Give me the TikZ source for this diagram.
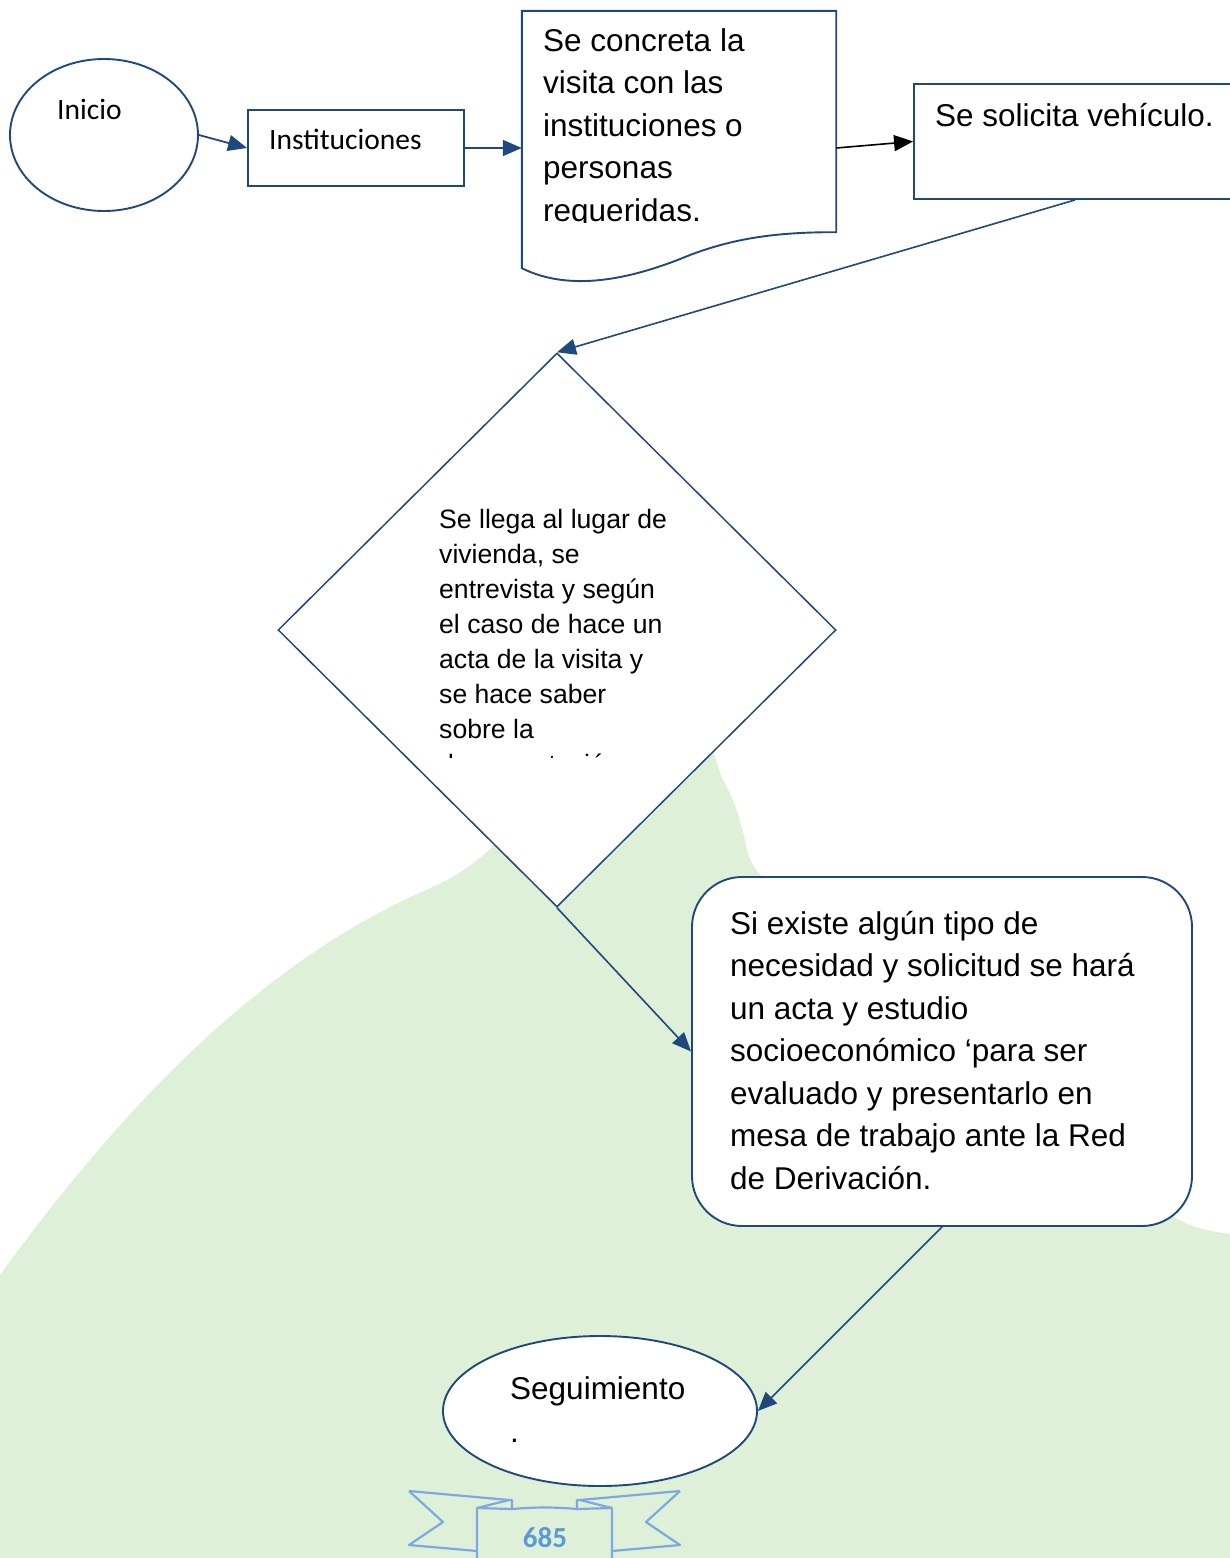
\documentclass[tikz,border=0pt]{standalone}
\usepackage{fontspec}
\setmainfont{Liberation Sans}
\newfontfamily\calibrifont{Carlito}
\usetikzlibrary{positioning,arrows.meta,shapes.geometric}
\definecolor{flowblue}{RGB}{31,73,125}
\definecolor{bggreen}{RGB}{223,240,216}
\definecolor{ribbonblue}{RGB}{125,168,226}
\definecolor{pagenum}{RGB}{91,155,213}
\tikzset{
  shapestyle/.style={draw=flowblue, line width=1.9pt, fill=white, inner sep=0pt},
  arrowstyle/.style={-{Triangle[length=19pt,width=16pt]}, flowblue, line width=1.8pt},
  bigtext/.style={anchor=base west, align=left, inner sep=0pt, font=\fontsize{31.5}{42.5}\selectfont},
  smalltext/.style={anchor=base west, align=left, inner sep=0pt, font=\fontsize{26.6}{35.1}\selectfont},
  calibritext/.style={anchor=base west, inner sep=0pt, font=\calibrifont\fontsize{29.5}{33}\selectfont}
}

\begin{document}
\begin{tikzpicture}[x=1pt,y=-1pt]
  \useasboundingbox (0,0) rectangle (1230,1558);
  \fill[bggreen] (0,1558) -- (0,1275) .. controls (120,1110) and (260,960) .. (435,886)
    .. controls (470,870) and (490,850) .. (520,820) -- (700,720)
    .. controls (712,740) and (715,760) .. (722,778) .. controls (735,800) and (740,820) .. (745,840)
    .. controls (750,870) and (760,880) .. (800,900) -- (1150,1200)
    .. controls (1180,1225) and (1200,1230) .. (1230,1234) -- (1230,1558) -- cycle;
  \node[shapestyle, ellipse, minimum width=188pt, minimum height=152pt] (inicio) at (104,135) {};
  \node[shapestyle, rectangle, minimum width=216pt, minimum height=76pt] (inst) at (356,148) {};
  \node[rectangle, inner sep=0pt, minimum width=314pt, minimum height=257pt] (doc) at (679,139.5) {};
  \draw[shapestyle] (doc.south west) -- (doc.north west) -- (doc.north east) -- ([yshift=36pt]doc.south east)
    .. controls (770,232) and (730,240) .. (690,255) .. controls (630,280) and (570,292) .. (doc.south west) -- cycle;
  \node[shapestyle, rectangle, minimum width=322pt, minimum height=115pt] (veh) at (1075,141.5) {};
  \node[shapestyle, diamond, line width=1.5pt, minimum width=558pt, minimum height=554pt] (dec) at (557,630) {};
  \node[shapestyle, rectangle, rounded corners=50pt, minimum width=500pt, minimum height=349pt] (eval) at (942,1051.5) {};
  \node[shapestyle, ellipse, minimum width=314pt, minimum height=150pt] (seg) at (600,1411) {};

  \node[calibritext] (inicio-txt) at (57,119) {Inicio};
  \node[calibritext] (inst-txt) at (269,149) {Instituciones};
  \begin{scope}
    \clip (522,11) rectangle (836,222);
    \node[bigtext] (doc-txt) at (543,221) {Se concreta la\\visita con las\\instituciones o\\personas\\requeridas.};
  \end{scope}
  \node[bigtext] (veh-txt) at (935,126) {Se solicita vehículo.};
  \begin{scope}
    \clip (278,353) rectangle (836,757);
    \node[smalltext] (dec-txt) at (439,773.7) {Se llega al lugar de\\vivienda, se\\entrevista y según\\el caso de hace un\\acta de la visita y\\se hace saber\\sobre la\\documentación};
  \end{scope}
  \node[bigtext] (eval-txt) at (730,1189) {Si existe algún tipo de\\necesidad y solicitud se hará\\un acta y estudio\\socioeconómico ‘para ser\\evaluado y presentarlo en\\mesa de trabajo ante la Red\\de Derivación.};
  \node[bigtext] (seg-txt) at (510,1442) {Seguimiento\\.};

  \draw[arrowstyle] (inicio.east) -- (inst.west);
  \draw[arrowstyle] (inst.east) -- (inst.east -| doc.west);
  \draw[arrowstyle, black, line width=1.6pt] (doc.east |- inst.east) -- (veh.west);
  \draw[arrowstyle, line width=1.6pt] (veh.south) -- (dec.north);
  \draw[arrowstyle, line width=1.6pt] (dec.south) -- (eval.west);
  \draw[arrowstyle, line width=1.6pt] (eval.south) -- (seg.east);

  \begin{scope}[ribbonblue, line width=2.2pt, line join=round]
    \draw (477,1565) -- (477,1508) -- (509,1500) -- (512,1500) -- (512,1509);
    \draw (409,1491) -- (509,1500);
    \draw (409,1491) -- (443,1522) -- (409,1545) -- (477,1551);
    \draw (612,1565) -- (612,1508) -- (580,1500) -- (577,1500) -- (577,1509);
    \draw (680,1491) -- (580,1500);
    \draw (680,1491) -- (646,1522) -- (680,1545) -- (612,1551);
    \draw (477,1508) -- (512,1509) .. controls (535,1507) and (555,1507) .. (577,1509) -- (612,1508);
  \end{scope}
  \node[font=\calibrifont\bfseries\fontsize{29}{30}\selectfont, text=pagenum, inner sep=0pt] (pagenum) at (545,1538) {685};
\end{tikzpicture}
\end{document}
